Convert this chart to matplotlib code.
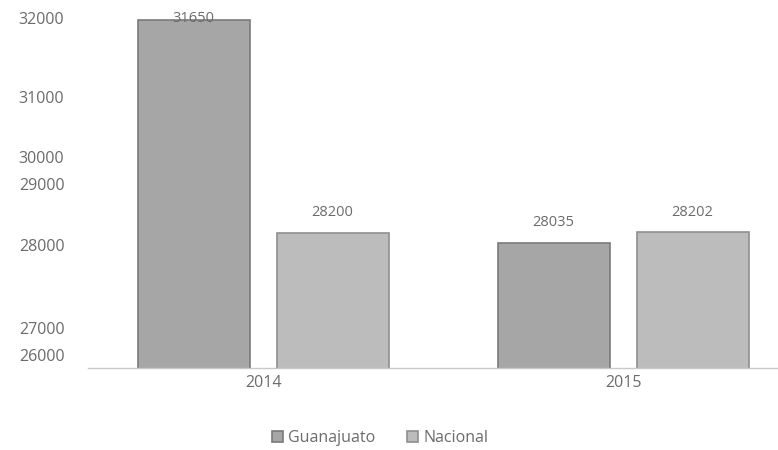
import matplotlib
matplotlib.use("Agg")
import matplotlib.pyplot as plt
import numpy as np

years = ["2014", "2015"]
guanajuato = [31650, 28035]
nacional = [28200, 28202]
series_names = ["Guanajuato", "Nacional"]
tick_labels = ["32000", "31000", "30000", "29000", "28000", "27000", "26000"]
# positions where the (irregular) tick labels appear in the reference
tick_positions = [31690, 30400, 29420, 28980, 28005, 26650, 26215]

plt.rcParams['font.family'] = ['Open Sans', 'DejaVu Sans']
text_color = '#6b6b6b'

fig = plt.figure(figsize=(7.78, 4.5), dpi=100)
ax = fig.add_axes([88/778, 82/450, 1 - 88/778, 368/450])

x = np.arange(len(years))
width = 0.311
off = 0.193
colors = ['#a6a6a6', '#bcbcbc']
edges = ['#7a7a7a', '#8f8f8f']

b1 = ax.bar(x - off, guanajuato, width, color=colors[0], edgecolor=edges[0],
            linewidth=1.2, label=series_names[0], zorder=2)
b2 = ax.bar(x + off, nacional, width, color=colors[1], edgecolor=edges[1],
            linewidth=1.2, label=series_names[1], zorder=2)

ymin, ymax = 26000, 31975
ax.set_ylim(ymin, ymax)
ax.set_xlim(-0.486, 1.43)

for bars, vals in ((b1, guanajuato), (b2, nacional)):
    for rect, v in zip(bars, vals):
        ty = min(v + 330, ymax - 300)
        ax.text(rect.get_x() + rect.get_width()/2, ty, str(v), ha='center', va='center',
                fontsize=10.5, color=text_color, zorder=3)

ax.set_yticks(tick_positions)
ax.set_yticklabels(tick_labels)
ax.set_xticks(x)
ax.set_xticklabels(years)
ax.tick_params(axis='both', length=0, labelsize=11.5, colors=text_color)
ax.tick_params(axis='y', pad=17)
ax.tick_params(axis='x', pad=5)

for s in ['top', 'right', 'left']:
    ax.spines[s].set_visible(False)
ax.spines['bottom'].set_color('#c8c8c8')
ax.spines['bottom'].set_linewidth(1.0)

leg = fig.legend(handles=[b1, b2], labels=series_names, loc='center', bbox_to_anchor=(380/778, 1 - 438/450),
                 ncol=2, frameon=False, fontsize=11.5, handlelength=0.7, handleheight=0.7,
                 handletextpad=0.3, columnspacing=2.0)
for t in leg.get_texts():
    t.set_color(text_color)

fig.savefig("out.png", dpi=100, facecolor='white')
